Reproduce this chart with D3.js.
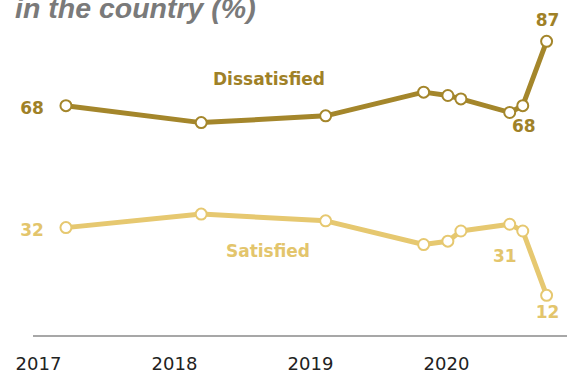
<!DOCTYPE html>
<html>
<head>
<meta charset="utf-8">
<script src="https://cdn.jsdelivr.net/npm/d3@7"></script>
<style>
  html, body { margin: 0; padding: 0; background: #fff; }
  svg { display: block; }
</style>
</head>
<body>
<svg id="chart" width="567" height="375"></svg>
<script>
// ---- data ----
const dates = ["2017-03-17", "2018-03-15", "2019-02-12", "2019-11-02", "2020-01-06", "2020-02-10", "2020-06-20", "2020-07-25", "2020-09-27"];
const dissatisfied = [68, 63, 65, 72, 71, 70, 66, 68, 87];
const satisfied = [32, 36, 34, 27, 28, 31, 33, 31, 12];
const yearTicks = ["2017", "2018", "2019", "2020"];
const seriesNames = ["Dissatisfied", "Satisfied"];
const titleText = "in the country (%)";

// ---- setup ----
const parse = d3.timeParse("%Y-%m-%d");
const svg = d3.select("#chart");
const W = 567;

const x = d3.scaleTime()
  .domain([parse("2017-01-01"), parse("2020-01-01")])
  .range([38, 446]);
const y = d3.scaleLinear().domain([0, 100]).range([336, -2.7]);

const darkGold = "#a4862b";
const lightGold = "#e6c870";
const darkText = "#9f8127";
const lightText = "#e3c56c";
const numFont = "'DejaVu Sans', sans-serif";

// title (partially cut off at top, as in the source)
svg.append("text")
  .attr("x", 15).attr("y", 18)
  .attr("font-family", "'Liberation Sans', Arial, sans-serif")
  .attr("font-style", "italic").attr("font-weight", "bold")
  .attr("font-size", 28.5).attr("fill", "#7a7a7a")
  .text(titleText);

// baseline axis line
svg.append("line")
  .attr("x1", 33).attr("x2", W)
  .attr("y1", y(0)).attr("y2", y(0))
  .attr("stroke", "#8a8a8a").attr("stroke-width", 1.5);

// x axis tick labels
const axis = d3.axisBottom(x)
  .tickValues(yearTicks.map(t => parse(t + "-01-01")))
  .tickFormat(d3.timeFormat("%Y"))
  .tickSize(0).tickPadding(0);
const gx = svg.append("g").attr("transform", "translate(0,370)").call(axis);
gx.select(".domain").remove();
gx.selectAll("text")
  .attr("dy", 0)
  .attr("font-family", numFont)
  .attr("font-size", 18)
  .attr("fill", "#222");

const pts = dates.map(parse);
const line = d3.line().x((d, i) => x(pts[i])).y(d => y(d));

function drawSeries(vals, color) {
  svg.append("path")
    .datum(vals)
    .attr("d", line)
    .attr("fill", "none")
    .attr("stroke", color)
    .attr("stroke-width", 5)
    .attr("stroke-linejoin", "round")
    .attr("stroke-linecap", "round");
  svg.append("g").selectAll("circle")
    .data(vals).join("circle")
    .attr("cx", (d, i) => x(pts[i]))
    .attr("cy", d => y(d))
    .attr("r", 5.5)
    .attr("fill", "#fff")
    .attr("stroke", color)
    .attr("stroke-width", 2);
}
drawSeries(dissatisfied, darkGold);
drawSeries(satisfied, lightGold);

// series labels
svg.append("text").attr("x", 269).attr("y", 85)
  .attr("text-anchor", "middle").attr("font-family", numFont)
  .attr("font-weight", "bold").attr("font-size", 17).attr("fill", darkText)
  .text(seriesNames[0]);
svg.append("text").attr("x", 268).attr("y", 257)
  .attr("text-anchor", "middle").attr("font-family", numFont)
  .attr("font-weight", "bold").attr("font-size", 17).attr("fill", lightText)
  .text(seriesNames[1]);

// value labels
function valLabel(xp, yp, txt, color, anchor) {
  svg.append("text").attr("x", xp).attr("y", yp)
    .attr("text-anchor", anchor || "middle")
    .attr("font-family", numFont).attr("font-weight", "bold")
    .attr("font-size", 17).attr("fill", color).text(txt);
}
const n = dates.length;
valLabel(x(pts[0]) - 22, y(dissatisfied[0]) + 8, dissatisfied[0], darkText, "end");
valLabel(x(pts[0]) - 22, y(satisfied[0]) + 8, satisfied[0], lightText, "end");
valLabel(x(pts[n - 1]) + 1, y(dissatisfied[n - 1]) - 15, dissatisfied[n - 1], darkText);
valLabel(x(pts[n - 1]) + 1, y(satisfied[n - 1]) + 23, satisfied[n - 1], lightText);
valLabel(x(pts[n - 2]) + 1, y(dissatisfied[n - 2]) + 26, dissatisfied[n - 2], darkText);
valLabel(x(pts[n - 2]) - 18, y(satisfied[n - 2]) + 31, satisfied[n - 2], lightText);
</script>
</body>
</html>
